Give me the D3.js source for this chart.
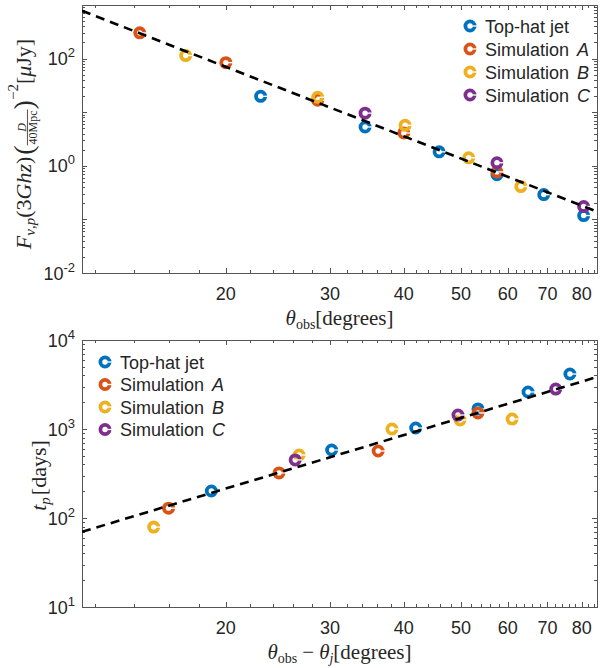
<!DOCTYPE html>
<html>
<head>
<meta charset="utf-8">
<script src="https://cdn.jsdelivr.net/npm/d3@7"></script>
<style>
  body { margin: 0; background: #fff; }
  text { fill: #262626; }
</style>
</head>
<body>
<div id="chart"></div>
<script>
// ---- data ----
const seriesNames = ["Top-hat jet", "Simulation", "Simulation", "Simulation"];
const seriesTags = ["", "A", "B", "C"];
const colors = ["#0072BD", "#D95319", "#EDB120", "#7E2F8E"];

// top panel: peak flux vs theta_obs
const topHatX = [22.9, 34.4, 45.9, 57.5, 69.0, 80.6];
const topHatF = [19.8, 5.3, 1.82, 0.68, 0.29, 0.118];
const simAX = [14.3, 20.0, 28.6, 40.0, 57.5];
const simAF = [302, 84, 16.7, 4.1, 0.77];
const simBX = [17.1, 28.6, 40.2, 51.5, 63.1];
const simBF = [114, 19, 5.7, 1.41, 0.41];
const simCX = [34.4, 57.5, 80.6];
const simCF = [9.6, 1.14, 0.174];
const fitFX = [11.42, 84.9];
const fitFY = [780, 0.14];

// bottom panel: peak time vs theta_obs - theta_j
const topHatDX = [18.9, 30.2, 41.9, 53.4, 64.9, 76.4];
const topHatT = [201, 581, 1026, 1679, 2606, 4150];
const simADX = [16.0, 24.6, 36.2, 53.4];
const simAT = [129, 321, 566, 1514];
const simBDX = [15.1, 26.6, 38.2, 49.8, 61.0];
const simBT = [79, 510, 1000, 1262, 1294];
const simCDX = [26.2, 49.4, 72.3];
const simCT = [449, 1435, 2812];
const fitTX = [11.42, 84.9];
const fitTY = [70, 3838];

const xTicks = [20, 30, 40, 50, 60, 70, 80];
const xMinor = [12, 14, 16, 18, 22, 24, 26, 28, 32, 34, 36, 38, 42, 44, 46, 48,
                52, 54, 56, 58, 62, 64, 66, 68, 72, 74, 76, 78, 82, 84];
const topYTickExp = [-2, 0, 2];
const botYTickExp = [1, 2, 3, 4];

// ---- layout ----
const width = 601, height = 668;
const left = 82, right = 597;
const sansFont = "'Liberation Sans', Arial, Helvetica, sans-serif";
const serifFont = "'Liberation Serif', 'Times New Roman', serif";

const svg = d3.select("#chart").append("svg")
  .attr("width", width).attr("height", height)
  .style("font-family", sansFont);

function panel(cfg) {
  const x = d3.scaleLog().domain([11.42, 84.9]).range([left, right]);
  const y = d3.scaleLog().domain(cfg.yDomain).range([cfg.bottom, cfg.top]);
  const g = svg.append("g");

  // ticks on all four sides, pointing inward
  const tk = g.append("g").attr("stroke", "#262626").attr("stroke-width", 0.8);
  const drawX = (vals, len) => vals.forEach(v => {
    const px = Math.round(x(v)) + 0.5;
    tk.append("line").attr("x1", px).attr("x2", px).attr("y1", cfg.bottom).attr("y2", cfg.bottom - len);
    tk.append("line").attr("x1", px).attr("x2", px).attr("y1", cfg.top).attr("y2", cfg.top + len);
  });
  drawX(xTicks, 5);
  drawX(xMinor, 3);

  const [y0, y1] = cfg.yDomain;
  for (let d = Math.floor(Math.log10(y0)); d <= Math.ceil(Math.log10(y1)); d++) {
    for (let k = 1; k <= 9; k++) {
      const v = k * Math.pow(10, d);
      if (v < y0 * 0.999 || v > y1 * 1.001) continue;
      const len = k === 1 ? 5 : 3;
      const py = Math.round(y(v)) + 0.5;
      tk.append("line").attr("x1", left).attr("x2", left + len).attr("y1", py).attr("y2", py);
      tk.append("line").attr("x1", right).attr("x2", right - len).attr("y1", py).attr("y2", py);
    }
  }

  g.append("rect")
    .attr("x", left + 0.5).attr("y", cfg.top + 0.5)
    .attr("width", right - left).attr("height", cfg.bottom - cfg.top)
    .attr("fill", "none").attr("stroke", "#555").attr("stroke-width", 1);

  // x tick labels
  g.append("g").selectAll("text").data(xTicks).join("text")
    .attr("x", d => x(d)).attr("y", cfg.bottom + 27)
    .attr("text-anchor", "middle").style("font-size", "18px")
    .text(d => d);

  // y tick labels 10^n
  cfg.yTickExp.forEach(e => {
    const t = g.append("text")
      .attr("x", 75).attr("y", y(Math.pow(10, e)) + 6.5)
      .attr("text-anchor", "end").style("font-size", "18px");
    t.append("tspan").text("10");
    t.append("tspan").attr("dy", -8).style("font-size", "13px").text(e);
  });

  // markers
  const plotArea = g.append("g");
  cfg.series.forEach((s, i) => {
    const pts = s.x.map((v, j) => [v, s.y[j]]);
    const mg = plotArea.append("g");
    mg.selectAll("circle").data(pts).join("circle")
      .attr("cx", d => x(d[0])).attr("cy", d => y(d[1])).attr("r", 4.6)
      .attr("fill", "none").attr("stroke", colors[i]).attr("stroke-width", 3.8);
    mg.selectAll("line").data(pts).join("line")
      .attr("x1", d => x(d[0]) - 1).attr("x2", d => x(d[0]) + 7)
      .attr("y1", d => y(d[1])).attr("y2", d => y(d[1]))
      .attr("stroke", "#fff").attr("stroke-width", 1.3);
  });

  // fit line
  const clipId = "clip" + cfg.top;
  g.append("clipPath").attr("id", clipId).append("rect")
    .attr("x", left).attr("y", cfg.top).attr("width", right - left).attr("height", cfg.bottom - cfg.top);
  g.append("path")
    .datum(cfg.fit.x.map((v, j) => [v, cfg.fit.y[j]]))
    .attr("clip-path", `url(#${clipId})`)
    .attr("d", d3.line().x(d => x(d[0])).y(d => y(d[1])))
    .attr("fill", "none").attr("stroke", "#000").attr("stroke-width", 2.6)
    .attr("stroke-dasharray", "9,6");

  // legend
  const lg = g.append("g").attr("transform", `translate(${cfg.legend[0]},${cfg.legend[1]})`);
  seriesNames.forEach((name, i) => {
    const yy = i * cfg.legendStep;
    lg.append("circle").attr("cx", 0).attr("cy", yy).attr("r", 4.6)
      .attr("fill", "none").attr("stroke", colors[i]).attr("stroke-width", 3.8);
    lg.append("line").attr("x1", -1).attr("x2", 7).attr("y1", yy).attr("y2", yy)
      .attr("stroke", "#fff").attr("stroke-width", 1.3);
    const t = lg.append("text").attr("x", 15).attr("y", yy + 6.5).style("font-size", "18px");
    t.append("tspan").text(name);
    if (seriesTags[i]) t.append("tspan").attr("dx", 8).style("font-style", "italic").text(seriesTags[i]);
  });
  return g;
}

// lay out a row of math pieces starting at x = 0, return total width
function mathRow(g, pieces) {
  let cx = 0;
  pieces.forEach(p => {
    if (p.frac) {
      const n = g.append("text").attr("y", -p.up).style("font-size", p.size + "px")
        .style("font-style", "italic").text(p.frac[0]);
      const dn = g.append("text").attr("y", -p.up + p.size * 0.95).style("font-size", p.size + "px").text(p.frac[1]);
      const wn = n.node().getComputedTextLength(), wd = dn.node().getComputedTextLength();
      const w = Math.max(wn, wd) + 2;
      n.attr("x", cx + (w - wn) / 2);
      dn.attr("x", cx + (w - wd) / 2);
      g.append("line").attr("x1", cx).attr("x2", cx + w)
        .attr("y1", -p.up + p.size * 0.12).attr("y2", -p.up + p.size * 0.12)
        .attr("stroke", "#262626").attr("stroke-width", 0.8);
      cx += w;
    } else {
      const t = g.append("text").attr("x", cx).attr("y", p.dy || 0)
        .style("font-size", p.size + "px")
        .style("font-style", p.it ? "italic" : "normal").text(p.t);
      cx += t.node().getComputedTextLength() + (p.gap || 0);
    }
  });
  return cx;
}

function placeLabel(pieces, cxPos, baseY, rotate) {
  const g = svg.append("g").style("font-family", serifFont);
  const w = mathRow(g, pieces);
  if (rotate) g.attr("transform", `translate(${baseY},${cxPos + w / 2}) rotate(-90)`);
  else g.attr("transform", `translate(${cxPos - w / 2},${baseY})`);
}

panel({
  top: 5, bottom: 273, yDomain: [0.01, 1000], yTickExp: topYTickExp,
  series: [{x: topHatX, y: topHatF}, {x: simAX, y: simAF}, {x: simBX, y: simBF}, {x: simCX, y: simCF}],
  fit: {x: fitFX, y: fitFY},
  legend: [470, 26], legendStep: 23
});

panel({
  top: 340, bottom: 607, yDomain: [10, 10000], yTickExp: botYTickExp,
  series: [{x: topHatDX, y: topHatT}, {x: simADX, y: simAT}, {x: simBDX, y: simBT}, {x: simCDX, y: simCT}],
  fit: {x: fitTX, y: fitTY},
  legend: [105, 362], legendStep: 22.5
});

// axis labels
placeLabel([
  {t: "θ", it: true, size: 21},
  {t: "obs", size: 14, dy: 4},
  {t: "[degrees]", size: 21}
], (left + right) / 2, 325, false);

placeLabel([
  {t: "θ", it: true, size: 21},
  {t: "obs", size: 14, dy: 4, gap: 5},
  {t: "−", size: 21, gap: 5},
  {t: "θ", it: true, size: 21},
  {t: "j", it: true, size: 14, dy: 4},
  {t: "[degrees]", size: 21}
], (left + right) / 2, 659, false);

placeLabel([
  {t: "F", it: true, size: 22},
  {t: "ν,p", it: true, size: 15, dy: 4},
  {t: "(3", size: 22},
  {t: "Ghz", it: true, size: 22},
  {t: ")", size: 22, gap: 2},
  {t: "(", size: 28, dy: 2},
  {frac: ["D", "40Mpc"], size: 12, up: 5},
  {t: ")", size: 28, dy: 2},
  {t: "−2", size: 15, dy: -13},
  {t: "[", size: 22},
  {t: "μ", it: true, size: 22},
  {t: "Jy]", size: 22}
], (5 + 273) / 2 + 5, 31, true);

placeLabel([
  {t: "t", it: true, size: 22},
  {t: "p", it: true, size: 15, dy: 4, gap: 2},
  {t: "[days]", size: 22}
], (340 + 607) / 2 + 2, 46, true);
</script>
</body>
</html>
